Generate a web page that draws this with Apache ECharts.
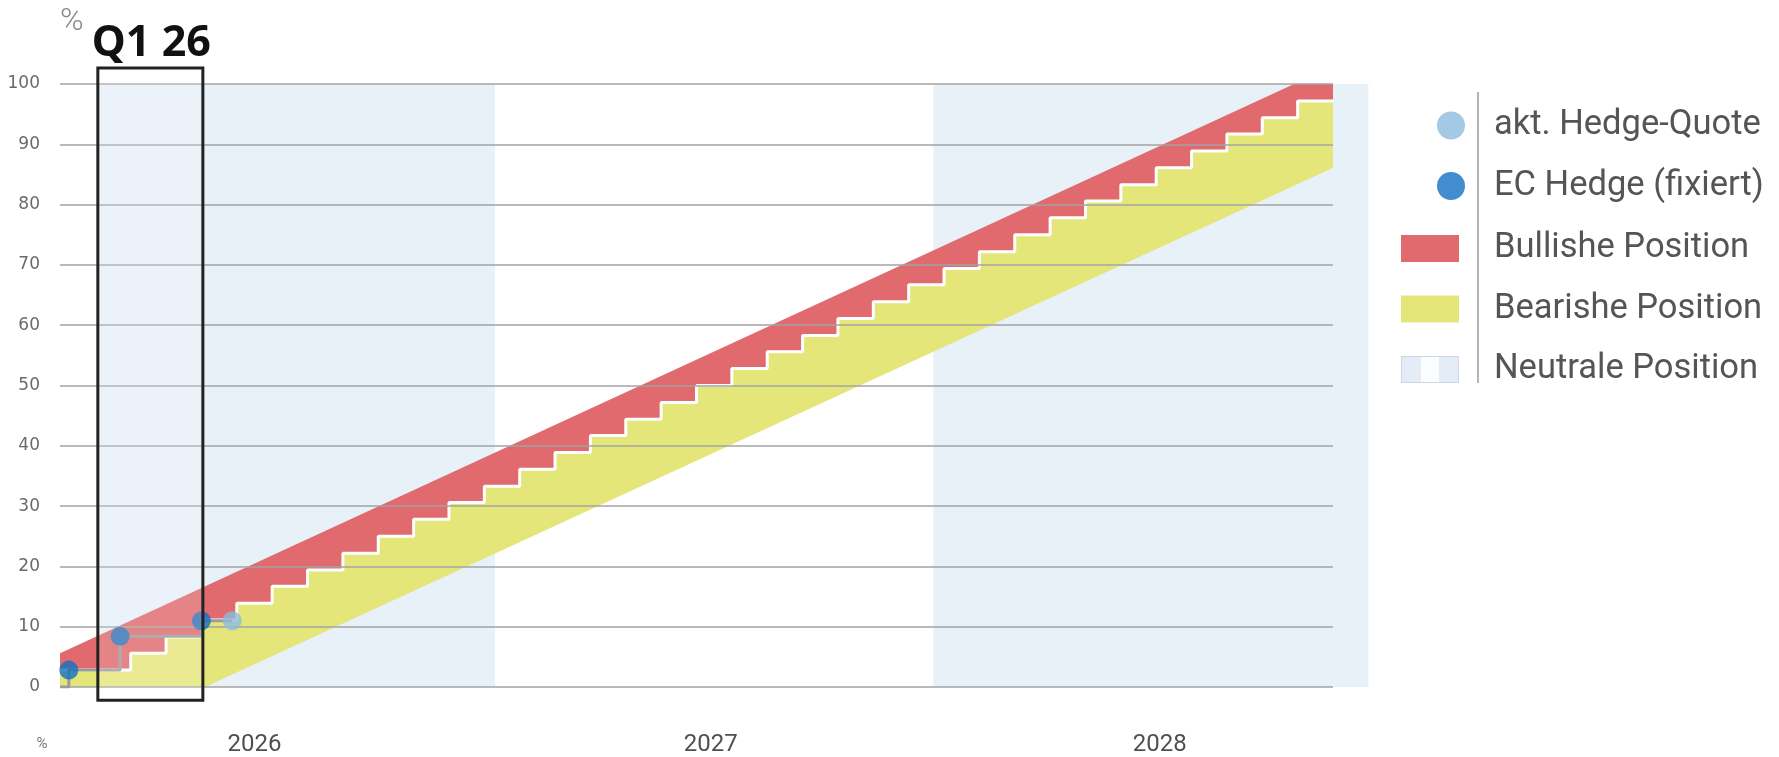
<!DOCTYPE html>
<html><head><meta charset="utf-8">
<script src="https://cdn.jsdelivr.net/npm/echarts@6/dist/echarts.min.js"></script>
<style>html,body{margin:0;padding:0;background:#fff}#c{width:1779px;height:757px}</style>
</head><body><div id="c"></div>
<script>
// ---- data (x = months from chart start, y = hedge ratio in %) ----
const yearLabels = ['2026', '2027', '2028'];
const yearLabelPos = [5.5, 18.4, 31.1];
// monthly hedge staircase (level of month i)
const stairLevels = [2.8, 2.8, 5.6, 8.3, 11.1, 13.9, 16.7, 19.4, 22.2, 25.0, 27.8, 30.6,
  33.3, 36.1, 38.9, 41.7, 44.4, 47.2, 50.0, 52.8, 55.6, 58.3, 61.1, 63.9,
  66.7, 69.4, 72.2, 75.0, 77.8, 80.6, 83.3, 86.1, 88.9, 91.7, 94.4, 97.2];
const bullTop = [[0, 5.6], [34.9, 100], [36, 100]];
const bearBottom = [[0, 0], [4.1, 0], [36, 86.1]];
const neutralBands = [[1.1, 12.3], [24.7, 37]];
const hedgePath = [[0, 0], [0.25, 2.8], [1.7, 8.4], [4.0, 11.0], [4.87, 11.0]];
const ecHedge = [[0.25, 2.8], [1.7, 8.4], [4.0, 11.0]];
const aktHedge = [[4.87, 11.0]];
const q1Box = { x: [1.07, 4.04], y: [-2.2, 102.65] };

// ---- build shapes ----
const stairPts = [];
stairLevels.forEach((v, i) => { stairPts.push([i, v]); stairPts.push([i + 1, v]); });
const bullPoly = bullTop.concat(stairPts.slice().reverse());
const bearPoly = stairPts.concat(bearBottom.slice().reverse());

const RED = '#E06A6D', YEL = '#E4E679', BAND = '#E8F0F8';
const neutralIcon = 'image://data:image/svg+xml;charset=utf-8,' + encodeURIComponent(
  '<svg xmlns="http://www.w3.org/2000/svg" width="58" height="27"><rect x="0" y="0" width="58" height="27" fill="#e4edf7"/><rect x="20" y="0" width="18" height="27" fill="#fbfcfe"/><rect x="0.5" y="0.5" width="57" height="26" fill="none" stroke="#cfd6de" stroke-width="1"/></svg>');

function polySeries(name, color, pts, z) {
  return {
    type: 'custom', name, z, clip: false, silent: true,
    itemStyle: { color },
    data: [0],
    renderItem: (params, api) => ({
      type: 'polygon',
      shape: { points: pts.map(p => api.coord(p)) },
      style: { fill: color }
    })
  };
}

const chart = echarts.init(document.getElementById('c'), null, { renderer: 'canvas' });
const legendText = { fontFamily: 'Roboto', fontSize: 34.5, color: '#555' };
const option = {
  animation: false,
  backgroundColor: '#fff',
  grid: { left: 60, right: 446, top: 84, bottom: 69 },
  xAxis: {
    type: 'value', min: 0, max: 36,
    axisLine: { show: false }, axisTick: { show: false }, splitLine: { show: false },
    axisLabel: {
      customValues: yearLabelPos,
      formatter: v => {
        let best = 0;
        yearLabelPos.forEach((p, i) => { if (Math.abs(p - v) < Math.abs(yearLabelPos[best] - v)) best = i; });
        return yearLabels[best];
      },
      margin: 46, fontFamily: 'Roboto', fontSize: 24, fontWeight: 400, color: '#505050'
    }
  },
  yAxis: {
    type: 'value', min: 0, max: 100, interval: 10, z: 3,
    name: '%', nameLocation: 'end', nameGap: 46,
    nameTextStyle: { align: 'left', verticalAlign: 'bottom', fontSize: 32, fontFamily: 'Roboto', fontWeight: 300, color: '#888' },
    axisLine: { show: false }, axisTick: { show: false },
    splitLine: { lineStyle: { color: '#a3a3a3', width: 1.5 } },
    axisLabel: { margin: 20, fontFamily: 'DejaVu Sans', fontSize: 17, color: '#6a6a6a' }
  },
  legend: [
    {
      orient: 'vertical', left: 1432, top: 103, itemWidth: 28, itemHeight: 28, itemGap: 25.5,
      icon: 'circle', selectedMode: false,
      data: ['akt. Hedge-Quote', 'EC Hedge (fixiert)'],
      textStyle: Object.assign({ padding: [0, 0, 0, 24] }, legendText)
    },
    {
      orient: 'vertical', left: 1396, top: 226, itemWidth: 58, itemHeight: 27, itemGap: 25.5,
      selectedMode: false,
      data: [{ name: 'Bullishe Position', icon: 'rect' }, { name: 'Bearishe Position', icon: 'rect' },
             { name: 'Neutrale Position', icon: neutralIcon }],
      textStyle: Object.assign({ padding: [0, 0, 0, 30] }, legendText)
    }
  ],
  series: [
    {
      type: 'custom', name: 'Neutrale Position', z: 1, clip: false, silent: true,
      itemStyle: { color: BAND },
      encode: { x: [0, 1] },
      data: neutralBands,
      renderItem: (params, api) => {
        const a = api.coord([api.value(0), 100]);
        const b = api.coord([api.value(1), 0]);
        return { type: 'rect', shape: { x: a[0], y: a[1], width: b[0] - a[0], height: b[1] - a[1] }, style: { fill: BAND } };
      }
    },
    polySeries('Bearishe Position', YEL, bearPoly, 2),
    polySeries('Bullishe Position', RED, bullPoly, 2),
    {
      type: 'line', name: 'stair', z: 2, silent: true, symbol: 'none',
      data: stairPts, lineStyle: { color: '#ffffff', width: 3 }
    },
    {
      type: 'line', name: 'hedgePath', z: 4, silent: true, symbol: 'none', step: 'end',
      data: hedgePath, lineStyle: { color: '#9b9b9b', width: 3 }
    },
    {
      type: 'scatter', name: 'EC Hedge (fixiert)', z: 5, symbol: 'circle', symbolSize: 19,
      itemStyle: { color: '#1270C0' }, data: ecHedge
    },
    {
      type: 'scatter', name: 'akt. Hedge-Quote', z: 5, symbol: 'circle', symbolSize: 19,
      itemStyle: { color: '#8DBBDD' }, data: aktHedge
    }
  ]
};
chart.setOption(option);

const tl = chart.convertToPixel({ gridIndex: 0 }, [q1Box.x[0], q1Box.y[1]]);
const br = chart.convertToPixel({ gridIndex: 0 }, [q1Box.x[1], q1Box.y[0]]);
chart.setOption({
  graphic: [
    { type: 'rect', z: 100, silent: true,
      shape: { x: tl[0], y: tl[1], width: br[0] - tl[0], height: br[1] - tl[1] },
      style: { fill: 'rgba(255,255,255,0.18)', stroke: '#222', lineWidth: 3 } },
    { type: 'text', z: 100, x: (tl[0] + br[0]) / 2 + 1, y: 44,
      style: { text: 'Q1 26', fontFamily: 'Noto Sans', fontWeight: 'bold', fontSize: 43, fill: '#111', align: 'center', verticalAlign: 'middle' } },
    { type: 'line', z: 10, shape: { x1: 1478, y1: 92, x2: 1478, y2: 383 }, style: { stroke: '#9a9a9a', lineWidth: 1.5 } },
    { type: 'text', z: 10, x: 42, y: 744,
      style: { text: '%', fontFamily: 'Roboto', fontSize: 15, fill: '#777', align: 'center', verticalAlign: 'middle' } }
  ]
});
</script>
</body></html>
